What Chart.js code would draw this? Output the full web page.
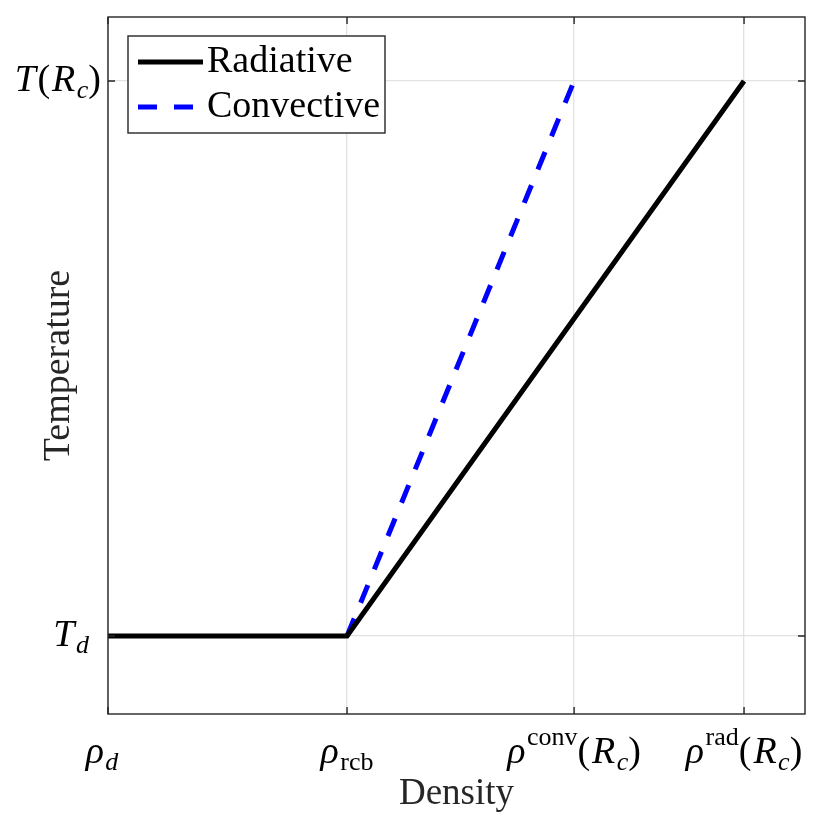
<!DOCTYPE html>
<html>
<head>
<meta charset="utf-8">
<script src="https://cdn.jsdelivr.net/npm/chart.js@4"></script>
<style>
html,body{margin:0;padding:0;background:#fff;}
#wrap{width:830px;height:830px;position:relative;}
</style>
</head>
<body>
<div id="wrap"><canvas id="c"></canvas></div>
<script>
// ---- data ----
const xTickValues = [0, 1, 1.95, 2.661];
const xTickLabels = ['ρ_d', 'ρ_{rcb}', 'ρ^{conv}(R_c)', 'ρ^{rad}(R_c)'];
const yTickValues = [0, 1];
const yTickLabels = ['T_d', 'T(R_c)'];
const seriesNames = ['Radiative', 'Convective'];
const radiativeX = [0, 1, 2.661];
const radiativeY = [0, 0, 1];
const convectiveX = [1, 1.95];
const convectiveY = [0, 1];
const xAxisTitle = 'Density';
const yAxisTitle = 'Temperature';

const SERIF = '"Liberation Serif", "Times New Roman", serif';
const AX = '#262626';

function toPts(xs, ys) { return xs.map((x, i) => ({x: x, y: ys[i]})); }

// mini TeX-like parser -> segments
function parseMath(s) {
  const segs = [];
  let i = 0;
  const isLetter = ch => /[A-Za-z\u0370-\u03FF]/.test(ch);
  while (i < s.length) {
    const ch = s[i];
    if (ch === '_' || ch === '^') {
      const mode = ch === '_' ? 'sub' : 'sup';
      i++;
      let grp;
      if (s[i] === '{') { const j = s.indexOf('}', i); grp = s.slice(i + 1, j); i = j + 1; }
      else { grp = s[i]; i++; }
      segs.push({t: grp, mode: mode, italic: grp.length === 1 && isLetter(grp)});
    } else {
      segs.push({t: ch, mode: 'base', italic: isLetter(ch)});
      i++;
    }
  }
  return segs;
}
const BASE = 38, SCRIPT = 26;
function segFont(sg) {
  const size = sg.mode === 'base' ? BASE : SCRIPT;
  return (sg.italic ? 'italic ' : '') + size + 'px ' + SERIF;
}
function layoutMath(ctx, str) {
  const segs = parseMath(str);
  let w = 0;
  segs.forEach((sg, k) => {
    ctx.font = segFont(sg);
    sg.w = ctx.measureText(sg.t).width;
    if (sg.mode === 'base' && sg.italic && k > 0 && segs[k - 1].mode === 'base') w += 2;
    sg.x = w;
    w += sg.w;
    if (sg.mode === 'base' && sg.italic) w += 1.5;
  });
  const last = segs[segs.length - 1];
  if (last && last.mode === 'sub' && last.t.length === 1) w += 12;
  return {segs: segs, w: w};
}
function drawMath(ctx, str, x, baseline, align) {
  const L = layoutMath(ctx, str);
  let x0 = align === 'center' ? x - L.w / 2 : (align === 'right' ? x - L.w : x);
  ctx.fillStyle = '#000';
  ctx.textBaseline = 'alphabetic';
  ctx.textAlign = 'left';
  L.segs.forEach(sg => {
    ctx.font = segFont(sg);
    const dy = sg.mode === 'sub' ? 7 : (sg.mode === 'sup' ? -18 : 0);
    ctx.fillText(sg.t, x0 + sg.x, baseline + dy);
  });
}

const decor = {
  id: 'decor',
  afterDraw(chart) {
    const ctx = chart.ctx;
    const a = chart.chartArea;
    const xs = chart.scales.x, ys = chart.scales.y;
    ctx.save();
    // frame
    ctx.strokeStyle = AX;
    ctx.lineWidth = 1.4;
    ctx.strokeRect(a.left, a.top, a.right - a.left, a.bottom - a.top);
    // inward ticks
    ctx.beginPath();
    xTickValues.forEach(v => {
      const px = xs.getPixelForValue(v);
      ctx.moveTo(px, a.bottom); ctx.lineTo(px, a.bottom - 7);
      ctx.moveTo(px, a.top); ctx.lineTo(px, a.top + 7);
    });
    yTickValues.forEach(v => {
      const py = ys.getPixelForValue(v);
      ctx.moveTo(a.left, py); ctx.lineTo(a.left + 7, py);
      ctx.moveTo(a.right, py); ctx.lineTo(a.right - 7, py);
    });
    ctx.stroke();
    // tick labels
    xTickValues.forEach((v, i) => {
      drawMath(ctx, xTickLabels[i], xs.getPixelForValue(v), a.bottom + 49, 'center');
    });
    yTickValues.forEach((v, i) => {
      drawMath(ctx, yTickLabels[i], a.left - 7, ys.getPixelForValue(v) + 10, 'right');
    });
    // legend
    const bx = a.left + 20, by = a.top + 19, bw = 257, bh = 97;
    ctx.fillStyle = '#fff';
    ctx.fillRect(bx, by, bw, bh);
    ctx.strokeStyle = AX;
    ctx.lineWidth = 1.4;
    ctx.strokeRect(bx, by, bw, bh);
    chart.data.datasets.forEach((ds, i) => {
      const ly = by + 26 + i * 45;
      ctx.beginPath();
      ctx.strokeStyle = ds.borderColor;
      ctx.lineWidth = ds.borderWidth;
      ctx.lineCap = 'butt';
      ctx.setLineDash(ds.borderDash || []);
      ctx.moveTo(bx + 10, ly); ctx.lineTo(bx + 75, ly);
      ctx.stroke();
      ctx.setLineDash([]);
      ctx.fillStyle = '#000';
      ctx.font = '38px ' + SERIF;
      ctx.textBaseline = 'middle';
      ctx.textAlign = 'left';
      ctx.fillText(ds.label, bx + 79, ly);
    });
    ctx.restore();
  }
};

new Chart(document.getElementById('c'), {
  type: 'line',
  data: {
    datasets: [
      {label: seriesNames[0], data: toPts(radiativeX, radiativeY), borderColor: '#000000', borderWidth: 5,
       pointRadius: 0, tension: 0, fill: false, order: 0, borderCapStyle: 'butt'},
      {label: seriesNames[1], data: toPts(convectiveX, convectiveY), borderColor: '#0000ff', borderWidth: 5,
       borderDash: [19, 17], pointRadius: 0, tension: 0, fill: false, order: 1, borderCapStyle: 'butt'}
    ]
  },
  options: {
    responsive: true,
    maintainAspectRatio: false,
    animation: false,
    layout: {padding: {top: 17, right: 25, left: 0, bottom: 0}},
    plugins: {legend: {display: false}, tooltip: {enabled: false}},
    scales: {
      x: {
        type: 'linear', min: 0, max: 2.916,
        afterBuildTicks: s => { s.ticks = xTickValues.map(v => ({value: v})); },
        afterFit: s => { s.height = 116; },
        ticks: {display: false},
        grid: {color: '#e2e2e2', lineWidth: 1.3, drawTicks: false},
        border: {display: false},
        title: {display: true, text: xAxisTitle, color: AX,
                font: {family: SERIF, size: 37}, padding: {top: 0, bottom: 14}}
      },
      y: {
        type: 'linear', min: -0.1405, max: 1.1153,
        afterBuildTicks: s => { s.ticks = yTickValues.map(v => ({value: v})); },
        afterFit: s => { s.width = 108; },
        ticks: {display: false},
        grid: {color: '#e2e2e2', lineWidth: 1.3, drawTicks: false},
        border: {display: false},
        title: {display: true, text: yAxisTitle, color: AX,
                font: {family: SERIF, size: 38}, padding: {top: 36, bottom: 0}}
      }
    }
  },
  plugins: [decor]
});
</script>
</body>
</html>
